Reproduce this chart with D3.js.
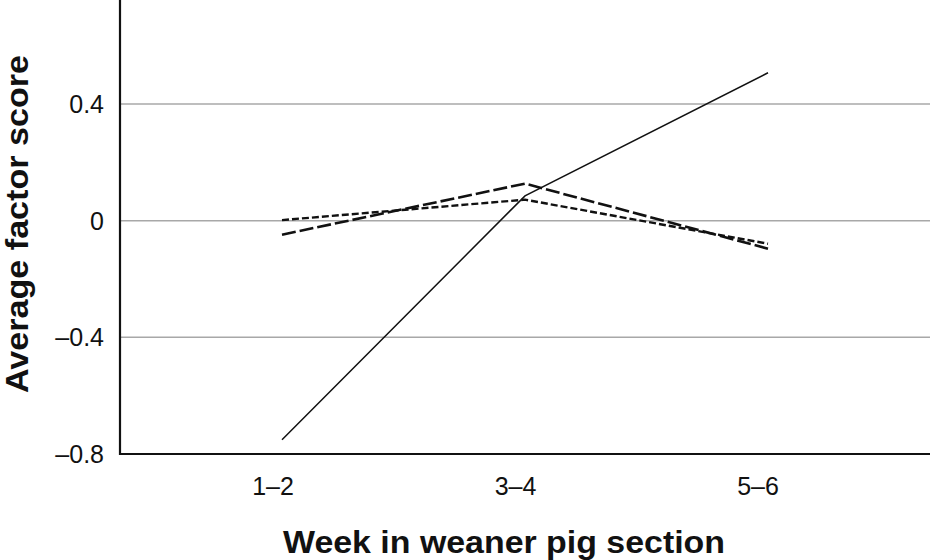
<!DOCTYPE html>
<html><head><meta charset="utf-8">
<script src="https://cdn.jsdelivr.net/npm/d3@7"></script>
<style>body{margin:0;background:#fff}svg{display:block}</style>
</head><body>
<svg id="c" width="951" height="560"></svg>
<script>
const categories = ["1–2", "3–4", "5–6"];
const yTicks = [-0.8, -0.4, 0, 0.4];
const yTickLabels = ["–0.8", "–0.4", "0", "0.4"];
const seriesSolid = [-0.751, 0.085, 0.507];
const seriesLongDash = [-0.048, 0.127, -0.096];
const seriesShortDash = [0.002, 0.072, -0.079];

const svg = d3.select("#c");
const left = 120, right = 930, bottom = 454;
const x = d3.scalePoint().domain(categories).range([282, 768]);
const xLab = d3.scalePoint().domain(categories).range([273, 758]);
const y = d3.scaleLinear().domain([-0.8, 0.4]).range([454, 104]);
const FONT = "Liberation Sans, Arial, sans-serif";

// gridlines
svg.append("g").selectAll("line").data(yTicks.filter(t => t > -0.8)).join("line")
  .attr("x1", left).attr("x2", right)
  .attr("y1", d => y(d)).attr("y2", d => y(d))
  .attr("stroke", "#a8a8a8").attr("stroke-width", 1.5);

// series
const line = d3.line().x((d, i) => x(categories[i])).y(d => y(d));
const series = [
  {v: seriesShortDash, dash: "7,3", w: 2.4},
  {v: seriesLongDash, dash: "14,4", w: 2.6},
  {v: seriesSolid, dash: null, w: 1.5}
];
series.forEach(s => {
  svg.append("path").datum(s.v).attr("d", line)
    .attr("fill", "none").attr("stroke", "#111").attr("stroke-width", s.w)
    .attr("stroke-dasharray", s.dash);
});

// axes lines
svg.append("line").attr("x1", left).attr("x2", left).attr("y1", 0).attr("y2", bottom + 1)
  .attr("stroke", "#111").attr("stroke-width", 2.2);
svg.append("line").attr("x1", left - 1).attr("x2", right).attr("y1", bottom).attr("y2", bottom)
  .attr("stroke", "#111").attr("stroke-width", 2.2);

// y tick labels
svg.append("g").selectAll("text").data(yTicks).join("text")
  .attr("x", 104).attr("y", d => y(d))
  .attr("dy", "0.36em")
  .attr("text-anchor", "end")
  .attr("font-family", FONT).attr("font-size", 25)
  .attr("fill", "#111")
  .text((d, i) => yTickLabels[i]);

// x tick labels
svg.append("g").selectAll("text").data(categories).join("text")
  .attr("x", d => xLab(d)).attr("y", 495)
  .attr("text-anchor", "middle")
  .attr("font-family", FONT).attr("font-size", 25)
  .attr("fill", "#111")
  .text(d => d);

// titles
svg.append("text").attr("x", 504).attr("y", 553).attr("text-anchor", "middle")
  .attr("font-family", FONT).attr("font-size", 31)
  .attr("font-weight", "bold").attr("fill", "#111")
  .attr("textLength", 442).attr("lengthAdjust", "spacingAndGlyphs")
  .text("Week in weaner pig section");
svg.append("text").attr("transform", "translate(28,224) rotate(-90)").attr("text-anchor", "middle")
  .attr("font-family", FONT).attr("font-size", 32)
  .attr("font-weight", "bold").attr("fill", "#111")
  .attr("textLength", 338).attr("lengthAdjust", "spacingAndGlyphs")
  .text("Average factor score");
</script>
</body></html>
